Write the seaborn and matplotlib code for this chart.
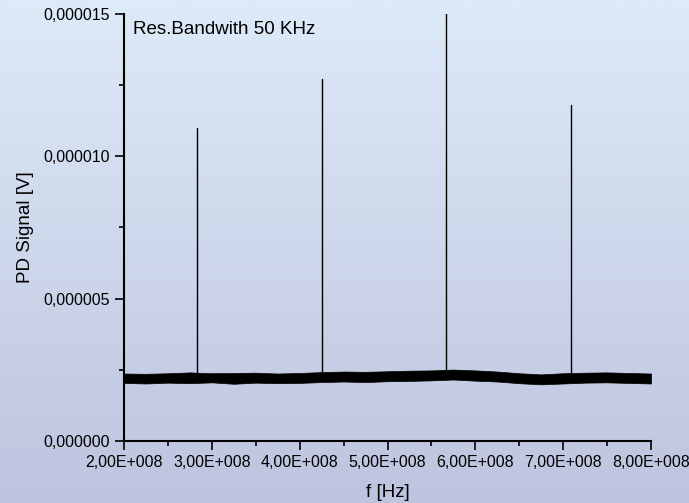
import numpy as np
import pandas as pd
import matplotlib
matplotlib.use("Agg")
import matplotlib.pyplot as plt
from matplotlib.colors import LinearSegmentedColormap
from matplotlib.ticker import FuncFormatter, MultipleLocator, AutoMinorLocator
import seaborn as sns

# spectrum peaks (harmonics)
peak_freq = [2.83e8, 4.25e8, 5.67e8, 7.09e8]
peak_value = [1.10e-5, 1.27e-5, 1.52e-5, 1.18e-5]
peak_base = [2.21e-6, 2.24e-6, 2.31e-6, 2.20e-6]

# noise floor envelope (lower / upper edge of the black band)
noise_freq = [2.00e8, 2.25e8, 2.50e8, 2.75e8, 3.00e8, 3.25e8, 3.50e8, 3.75e8, 4.00e8,
              4.25e8, 4.50e8, 4.75e8, 5.00e8, 5.25e8, 5.50e8, 5.75e8, 6.00e8, 6.25e8,
              6.50e8, 6.75e8, 7.00e8, 7.25e8, 7.50e8, 7.75e8, 8.00e8]
noise_low = [2.04e-6, 2.02e-6, 2.05e-6, 2.03e-6, 2.06e-6, 2.01e-6, 2.05e-6, 2.03e-6, 2.04e-6,
             2.07e-6, 2.09e-6, 2.07e-6, 2.10e-6, 2.11e-6, 2.13e-6, 2.16e-6, 2.12e-6, 2.09e-6,
             2.03e-6, 1.99e-6, 2.02e-6, 2.05e-6, 2.06e-6, 2.04e-6, 2.02e-6]
noise_high = [2.37e-6, 2.36e-6, 2.38e-6, 2.41e-6, 2.38e-6, 2.39e-6, 2.40e-6, 2.37e-6, 2.39e-6,
              2.42e-6, 2.44e-6, 2.43e-6, 2.45e-6, 2.47e-6, 2.48e-6, 2.51e-6, 2.48e-6, 2.44e-6,
              2.38e-6, 2.34e-6, 2.38e-6, 2.40e-6, 2.41e-6, 2.39e-6, 2.37e-6]

annotation = "Res.Bandwith 50 KHz"

sns.set_style("ticks")
plt.rcParams['font.family'] = ['Liberation Sans', 'DejaVu Sans']
plt.rcParams['text.color'] = 'black'
plt.rcParams['axes.labelcolor'] = 'black'

fig = plt.figure(figsize=(6.89, 5.03), dpi=100)

# gradient background
bg = fig.add_axes([0, 0, 1, 1])
cmap = LinearSegmentedColormap.from_list("bg", ["#bec4de", "#ddeaf8"])
bg.imshow(np.linspace(0, 1, 256).reshape(-1, 1)[::-1], aspect='auto', cmap=cmap,
          extent=[0, 1, 0, 1])
bg.axis('off')

ax = fig.add_axes([124 / 689, 62 / 503, 527 / 689, 427 / 503])
ax.set_facecolor('none')

ax.fill_between(noise_freq, noise_low, noise_high, color='black', edgecolor='black', linewidth=0.5)

spikes = pd.DataFrame({
    "f": peak_freq + peak_freq,
    "v": peak_base + peak_value,
    "peak": list(range(len(peak_freq))) * 2,
})
sns.lineplot(data=spikes, x="f", y="v", units="peak", estimator=None, color='black',
             linewidth=1.0, ax=ax, legend=False)

ax.set_xlim(2e8, 8e8)
ax.set_ylim(0, 1.5e-5)
ax.xaxis.set_major_locator(MultipleLocator(1e8))
ax.yaxis.set_major_locator(MultipleLocator(5e-6))
ax.xaxis.set_minor_locator(AutoMinorLocator(2))
ax.yaxis.set_minor_locator(AutoMinorLocator(2))


def fmt_x(v, pos):
    s = f"{v:.2E}"
    mant, ex = s.split('E')
    return f"{mant.replace('.', ',')}E{ex[0]}{ex[1:].zfill(3)}"


def fmt_y(v, pos):
    return f"{v:.6f}".replace('.', ',')


ax.xaxis.set_major_formatter(FuncFormatter(fmt_x))
ax.yaxis.set_major_formatter(FuncFormatter(fmt_y))

sns.despine(ax=ax)
for side in ['left', 'bottom']:
    ax.spines[side].set_linewidth(1.5)
    ax.spines[side].set_color('black')
ax.tick_params(which='major', length=6.5, width=1.2, labelsize=11.5, pad=3.5,
               colors='black', labelcolor='black')
ax.tick_params(which='minor', length=3.4, width=1.2, colors='black')

ax.set_xlabel("f [Hz]", fontsize=13.5, labelpad=10, color='black')
ax.set_ylabel("PD Signal [V]", fontsize=13.5, labelpad=7, color='black')

ax.text(0.017, 0.953, annotation, transform=ax.transAxes, fontsize=13.5,
        va='baseline', ha='left', color='black')

fig.savefig("out.png", dpi=100)
